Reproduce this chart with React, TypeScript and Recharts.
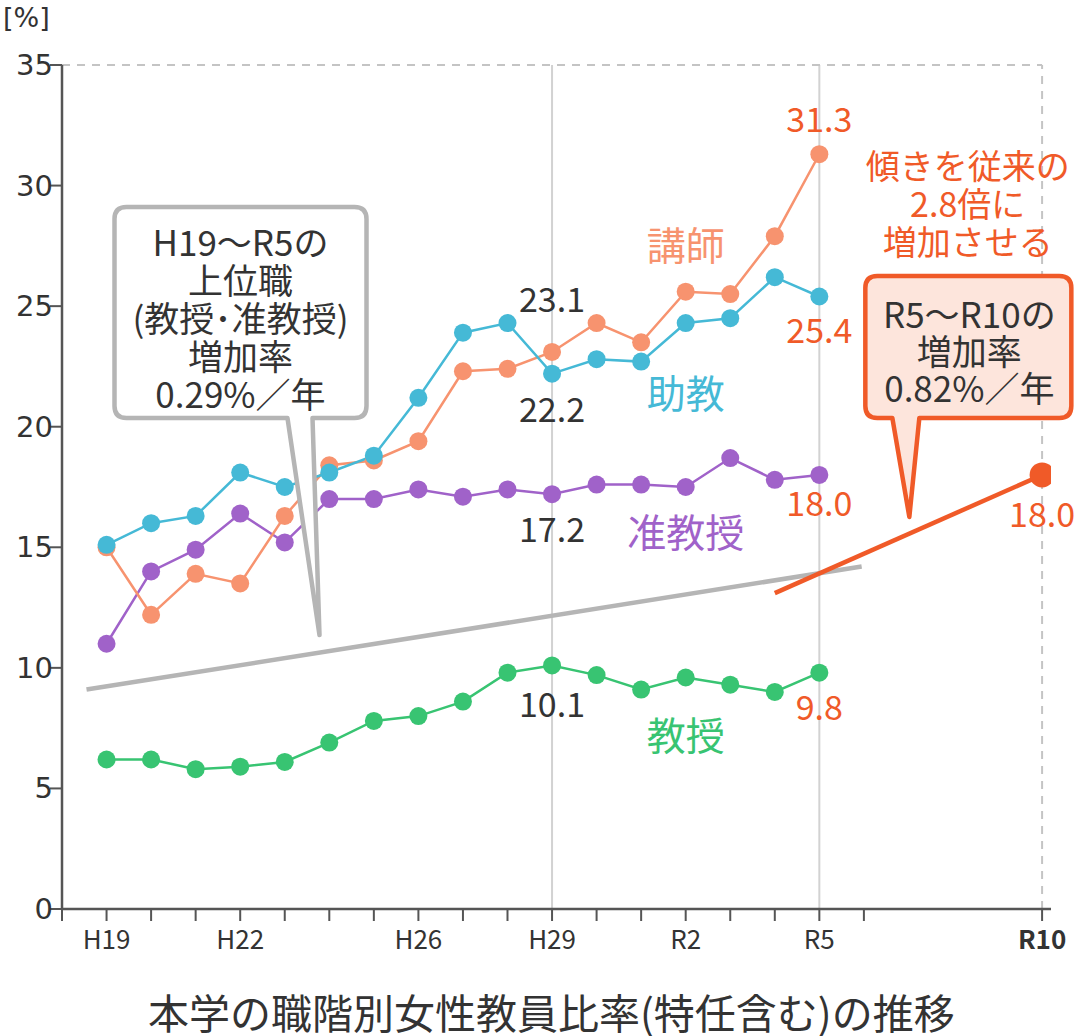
import { LineChart, Line, XAxis, YAxis, ReferenceLine, ReferenceDot, LabelList } from "recharts";

const years = ["H19", "H20", "H21", "H22", "H23", "H24", "H25", "H26", "H27", "H28", "H29", "H30", "R1", "R2", "R3", "R4", "R5"];
const lecturer = [15.0, 12.2, 13.9, 13.5, 16.3, 18.4, 18.6, 19.4, 22.3, 22.4, 23.1, 24.3, 23.5, 25.6, 25.5, 27.9, 31.3];
const assistant = [15.1, 16.0, 16.3, 18.1, 17.5, 18.1, 18.8, 21.2, 23.9, 24.3, 22.2, 22.8, 22.7, 24.3, 24.5, 26.2, 25.4];
const associate = [11.0, 14.0, 14.9, 16.4, 15.2, 17.0, 17.0, 17.4, 17.1, 17.4, 17.2, 17.6, 17.6, 17.5, 18.7, 17.8, 18.0];
const professor = [6.2, 6.2, 5.8, 5.9, 6.1, 6.9, 7.8, 8.0, 8.6, 9.8, 10.1, 9.7, 9.1, 9.6, 9.3, 9.0, 9.8];

// trend lines (x = year index, H19 = 0, R10 = 21)
const upperTrend = [
  { x: -0.45, y: 9.1 },
  { x: 16.95, y: 14.2 },
];
const targetTrend = [
  { x: 15, y: 13.1 },
  { x: 21, y: 18.0 },
];

const xTicks = [-1, 0, 1, 2, 3, 4, 5, 6, 7, 8, 9, 10, 11, 12, 13, 14, 15, 16, 17, 21];
const xTickLabels: Record<number, string> = { 0: "H19", 3: "H22", 7: "H26", 10: "H29", 13: "R2", 16: "R5", 21: "R10" };
const yTicks = [0, 5, 10, 15, 20, 25, 30, 35];

const data = years.map((year, i) => ({
  x: i,
  year,
  lecturer: lecturer[i],
  assistant: assistant[i],
  associate: associate[i],
  professor: professor[i],
}));

const FONT = "'Noto Sans CJK JP', 'Noto Sans', sans-serif";
const NUM_FONT = "'DejaVu Sans', sans-serif";
const AXIS = "#555";
const DARK = "#333";
const RED = "#f05a28";
const C_LECT = "#f7936f";
const C_ASSI = "#45b9d6";
const C_ASSO = "#a062c9";
const C_PROF = "#38c472";
const GRAY = "#b5b5b5";

type LabelSpec = Record<number, { dy: number; color: string }>;

const valueLabel = (spec: LabelSpec) => (props: any) => {
  const { x, y, value, index } = props;
  const s = spec[index];
  if (!s || value == null) return null;
  return (
    <text x={x} y={y + s.dy} textAnchor="middle" dominantBaseline="central" fontSize={34} fontFamily={FONT} fill={s.color}>
      {Number(value).toFixed(1)}
    </text>
  );
};

const XTick = (props: any) => {
  const { x, y, payload } = props;
  const label = xTickLabels[payload.value];
  if (!label) return null;
  return (
    <text x={x} y={y + 14} textAnchor="middle" dominantBaseline="central" fontSize={26} fontFamily={FONT} fill={DARK} fontWeight={payload.value === 21 ? 700 : 400}>
      {label}
    </text>
  );
};

const YTick = (props: any) => {
  const { x, y, payload } = props;
  return (
    <text x={x + 3} y={y} textAnchor="end" dominantBaseline="central" fontSize={29} fontFamily={NUM_FONT} fill={DARK}>
      {payload.value}
    </text>
  );
};

const textShape = (lines: string[], color: string, size: number, lh: number) => (props: any) => {
  const { cx, cy } = props;
  const start = cy - ((lines.length - 1) * lh) / 2;
  return (
    <text textAnchor="middle" dominantBaseline="central" fontSize={size} fontFamily={FONT} fill={color}>
      {lines.map((l, i) => (
        <tspan key={i} x={cx} y={start + i * lh}>
          {l}
        </tspan>
      ))}
    </text>
  );
};

type Callout = {
  left: number;
  right: number;
  top: number;
  bottom: number;
  tailL: number;
  tailR: number;
  stroke: string;
  fill: string;
  textX: number;
  textY: number;
  lines: string[];
  lh: number;
  size: number;
};

const calloutShape = (c: Callout) => (props: any) => {
  const { cx, cy } = props;
  const r = 12;
  const L = cx + c.left;
  const R = cx + c.right;
  const T = cy + c.top;
  const B = cy + c.bottom;
  const d = `M${L + r},${T} H${R - r} Q${R},${T} ${R},${T + r} V${B - r} Q${R},${B} ${R - r},${B} H${cx + c.tailR} L${cx},${cy} L${cx + c.tailL},${B} H${L + r} Q${L},${B} ${L},${B - r} V${T + r} Q${L},${T} ${L + r},${T} Z`;
  return (
    <g>
      <path d={d} fill={c.fill} stroke={c.stroke} strokeWidth={4.5} strokeLinejoin="round" />
      <text textAnchor="middle" dominantBaseline="central" fontSize={c.size} fontFamily={FONT} fill={DARK}>
        {c.lines.map((l, i) => (
          <tspan key={i} x={cx + c.textX} y={cy + c.textY + i * c.lh}>
            {l}
          </tspan>
        ))}
      </text>
    </g>
  );
};

const grayCallout: Callout = {
  left: -205,
  right: 47,
  top: -428,
  bottom: -217,
  tailL: -32,
  tailR: -7,
  stroke: GRAY,
  fill: "#ffffff",
  textX: -79,
  textY: -395,
  lines: ["H19〜R5の", "上位職", "(教授･准教授)", "増加率", "0.29%／年"],
  lh: 38,
  size: 35,
};

const redCallout: Callout = {
  left: -44,
  right: 162,
  top: -241,
  bottom: -99,
  tailL: -17,
  tailR: 10,
  stroke: RED,
  fill: "#fde5dc",
  textX: 60,
  textY: -205,
  lines: ["R5〜R10の", "増加率", "0.82%／年"],
  lh: 37,
  size: 35,
};

export default function App() {
  return (
    <div style={{ position: "absolute", left: 0, top: 0, width: 1080, height: 1036, background: "#fff", fontFamily: FONT, overflow: "hidden" }}>
      <div style={{ position: "absolute", left: 3, top: 1, fontSize: 27, color: DARK, lineHeight: "34px", fontFamily: NUM_FONT }}>[%]</div>
      <LineChart width={1080} height={1036} data={data} margin={{ top: 65, right: 29, left: 0, bottom: 67 }}>
        <XAxis
          type="number"
          dataKey="x"
          domain={[-1, 21.2]}
          ticks={xTicks}
          interval={0}
          tick={<XTick />}
          tickSize={12}
          tickLine={{ stroke: AXIS, strokeWidth: 2 }}
          axisLine={{ stroke: AXIS, strokeWidth: 2.5 }}
          height={60}
          allowDataOverflow
        />
        <YAxis
          type="number"
          domain={[0, 35]}
          ticks={yTicks}
          interval={0}
          width={62}
          tick={<YTick />}
          tickSize={12}
          tickMargin={0}
          tickLine={{ stroke: AXIS, strokeWidth: 2 }}
          axisLine={{ stroke: AXIS, strokeWidth: 2.5 }}
        />
        <ReferenceLine x={10} stroke="#d2d2d2" strokeWidth={2} />
        <ReferenceLine x={16} stroke="#d2d2d2" strokeWidth={2} />
        <ReferenceLine x={21} stroke="#c4c4c4" strokeWidth={2} strokeDasharray="8 7" />
        <ReferenceLine segment={[{ x: -1, y: 35 }, { x: 21, y: 35 }]} stroke="#c4c4c4" strokeWidth={2} strokeDasharray="8 7" />

        <Line data={upperTrend} dataKey="y" type="linear" stroke={GRAY} strokeWidth={4.5} dot={false} isAnimationActive={false} />

        <Line dataKey="professor" type="linear" stroke={C_PROF} strokeWidth={2.5} dot={{ r: 9, fill: C_PROF, stroke: "none" }} isAnimationActive={false}>
          <LabelList dataKey="professor" content={valueLabel({ 10: { dy: 37, color: DARK }, 16: { dy: 33, color: RED } })} />
        </Line>
        <Line dataKey="associate" type="linear" stroke={C_ASSO} strokeWidth={2.5} dot={{ r: 9, fill: C_ASSO, stroke: "none" }} isAnimationActive={false}>
          <LabelList dataKey="associate" content={valueLabel({ 10: { dy: 33, color: DARK }, 16: { dy: 27, color: RED } })} />
        </Line>
        <Line dataKey="lecturer" type="linear" stroke={C_LECT} strokeWidth={2.5} dot={{ r: 9, fill: C_LECT, stroke: "none" }} isAnimationActive={false}>
          <LabelList dataKey="lecturer" content={valueLabel({ 10: { dy: -54, color: DARK }, 16: { dy: -37, color: RED } })} />
        </Line>
        <Line dataKey="assistant" type="linear" stroke={C_ASSI} strokeWidth={2.5} dot={{ r: 9, fill: C_ASSI, stroke: "none" }} isAnimationActive={false}>
          <LabelList dataKey="assistant" content={valueLabel({ 10: { dy: 34, color: DARK }, 16: { dy: 32, color: RED } })} />
        </Line>

        <Line
          data={targetTrend}
          dataKey="y"
          type="linear"
          stroke={RED}
          strokeWidth={4.5}
          dot={(p: any) => (p.index === 1 ? <circle key="end" cx={p.cx} cy={p.cy} r={12.5} fill={RED} /> : <g key={`d${p.index}`} />)}
          isAnimationActive={false}
        >
          <LabelList dataKey="y" content={valueLabel({ 1: { dy: 38, color: RED } })} />
        </Line>

        <ReferenceDot x={13} y={27.6} r={0} shape={textShape(["講師"], C_LECT, 39, 40)} />
        <ReferenceDot x={13} y={21.5} r={0} shape={textShape(["助教"], C_ASSI, 39, 40)} />
        <ReferenceDot x={13} y={15.7} r={0} shape={textShape(["准教授"], C_ASSO, 39, 40)} />
        <ReferenceDot x={13} y={7.3} r={0} shape={textShape(["教授"], C_PROF, 39, 40)} />
        <ReferenceDot x={19.33} y={29.3} r={0} shape={textShape(["傾きを従来の", "2.8倍に", "増加させる"], RED, 34, 38)} />

        <ReferenceDot x={4.78} y={11.36} r={0} shape={calloutShape(grayCallout)} />
        <ReferenceDot x={18.02} y={16.26} r={0} shape={calloutShape(redCallout)} />
      </LineChart>
      <div
        style={{
          position: "absolute",
          left: 148,
          top: 991,
          whiteSpace: "nowrap",
          fontSize: 41,
          color: DARK,
          lineHeight: "41px",
        }}
      >
        本学の職階別女性教員比率(特任含む)の推移
      </div>
    </div>
  );
}
